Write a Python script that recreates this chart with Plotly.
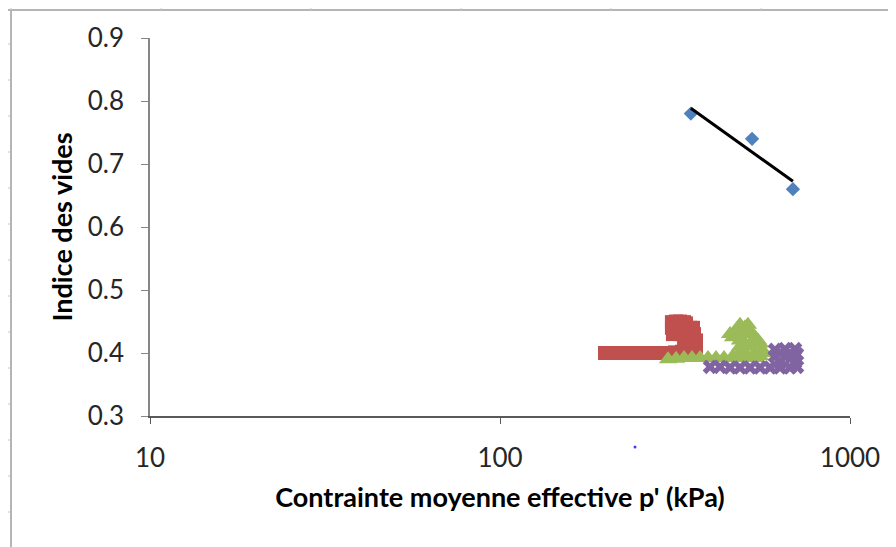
import numpy as np
import plotly.graph_objects as go

# Blue diamonds
p_blue = [351, 525, 687]
e_blue = [0.78, 0.74, 0.66]

# Red squares
p_red = [199.5, 208.9, 218.8, 229.1, 239.9, 251.2, 263.0, 275.4, 288.4, 302.0, 316.2, 331.1, 346.7,
         309.9, 318.4, 326.9, 335.6, 340.0, 349.0, 358.4, 363.1, 363.1, 358.4, 318.4, 326.9, 335.6, 349.0,
         309.9, 312.0, 340.0, 349.0, 356.0]
e_red = [0.400, 0.400, 0.400, 0.400, 0.400, 0.400, 0.400, 0.400, 0.400, 0.400, 0.401, 0.402, 0.404,
         0.449, 0.450, 0.450, 0.449, 0.447, 0.440, 0.430, 0.420, 0.410, 0.405, 0.440, 0.430, 0.420, 0.410,
         0.440, 0.430, 0.430, 0.420, 0.440]

# Green triangles
p_green = [302.0, 318.4, 335.6, 353.7, 372.8, 392.9, 414.1, 436.5, 460.1, 484.9, 511.1, 538.8,
           478.6, 501.2, 518.0, 535.3, 553.4, 560.7, 463.1, 484.9, 511.1, 535.3, 501.2, 553.4,
           484.9, 511.1, 454.2, 472.1, 491.3, 524.8, 546.1, 484.9, 501.2, 524.8, 560.7, 484.9, 463.1]
e_green = [0.390, 0.391, 0.392, 0.392, 0.392, 0.392, 0.392, 0.392, 0.392, 0.392, 0.392, 0.392,
           0.440, 0.441, 0.435, 0.425, 0.415, 0.405, 0.425, 0.420, 0.410, 0.400, 0.400, 0.395,
           0.445, 0.445, 0.430, 0.435, 0.430, 0.430, 0.420, 0.410, 0.415, 0.415, 0.400, 0.400, 0.395]

# Purple crosses
p_purple = [398.1, 425.3, 454.2, 484.9, 518.0, 553.4, 590.9, 631.0, 673.9, 705.6,
            610.6, 652.1, 696.6, 610.6, 652.1, 696.6, 631.0, 696.6, 705.6, 673.9, 631.0]
e_purple = [0.378, 0.378, 0.377, 0.377, 0.377, 0.377, 0.377, 0.377, 0.377, 0.378,
            0.405, 0.406, 0.406, 0.395, 0.395, 0.395, 0.385, 0.385, 0.398, 0.400, 0.400]

x_ticks = [10, 100, 1000]
x_tick_labels = ["10", "100", "1000"]
y_ticks = [0.3, 0.4, 0.5, 0.6, 0.7, 0.8, 0.9]
y_tick_labels = ["0.3", "0.4", "0.5", "0.6", "0.7", "0.8", "0.9"]

# Log trendline through blue points
lx = np.log10(p_blue)
slope, icpt = np.polyfit(lx, e_blue, 1)
tx = np.array([min(p_blue), max(p_blue)])
ty = slope * np.log10(tx) + icpt

fig = go.Figure()
fig.add_trace(go.Scatter(x=p_red, y=e_red, mode="markers",
                         marker=dict(symbol="square", size=14, color="#C0504D")))
fig.add_trace(go.Scatter(x=p_green, y=e_green, mode="markers",
                         marker=dict(symbol="triangle-up", size=16, color="#9BBB59")))
fig.add_trace(go.Scatter(x=p_purple, y=e_purple, mode="markers",
                         marker=dict(symbol="x", size=13, color="#8064A2")))
fig.add_trace(go.Scatter(x=p_blue, y=e_blue, mode="markers",
                         marker=dict(symbol="diamond", size=11, color="#4F81BD")))
fig.add_trace(go.Scatter(x=tx, y=ty, mode="lines", line=dict(color="black", width=3)))

font_family = "Lato, 'Open Sans', sans-serif"

# page offset of the html body (8px) is compensated in margins
OFF = 8
W, H = 896, 547
L, R, T, B = 150, 850, 38, 416  # plot area in page pixels


def px(x):
    return (x - L) / (R - L)


def py(y):
    return (B - y) / (B - T)


shapes = [
    dict(type="line", xref="paper", yref="paper", x0=px(5), x1=px(896), y0=py(10), y1=py(10),
         line=dict(color="#b5b5b5", width=2)),
    dict(type="line", xref="paper", yref="paper", x0=px(11), x1=px(11), y0=py(10), y1=py(547),
         line=dict(color="#b5b5b5", width=2)),
    dict(type="circle", xref="paper", yref="paper", x0=px(633.5), x1=px(636.5), y0=py(445.5), y1=py(448.5),
         fillcolor="#3b3bff", line=dict(width=0)),
]
for xx in range(11, 896, 150):
    shapes.append(dict(type="line", xref="paper", yref="paper", x0=px(xx), x1=px(xx),
                       y0=py(6), y1=py(10), line=dict(color="#c8c8c8", width=1)))
for yy in range(44, 547, 36):
    shapes.append(dict(type="line", xref="paper", yref="paper", x0=px(5), x1=px(10),
                       y0=py(yy), y1=py(yy), line=dict(color="#c8c8c8", width=1)))

fig.update_layout(
    width=W, height=H,
    margin=dict(l=L - OFF, r=W - (R - OFF), t=T - OFF, b=H - (B - OFF), pad=0),
    paper_bgcolor="white", plot_bgcolor="white",
    showlegend=False,
    shapes=shapes,
    font=dict(family=font_family, color="#262626"),
)
fig.update_xaxes(type="log", range=[1, 3], tickvals=x_ticks, ticktext=x_tick_labels,
                 showgrid=False, zeroline=False, showline=True, linecolor="#595959", linewidth=1.5,
                 ticks="outside", ticklen=6, tickcolor="#595959", ticklabelstandoff=12,
                 tickfont=dict(size=26, family=font_family, color="#262626"),
                 title=dict(text="<b>Contrainte moyenne effective p' (kPa)</b>",
                            font=dict(size=27, family=font_family, color="black"), standoff=16))
fig.update_yaxes(range=[0.3, 0.9], tickvals=y_ticks, ticktext=y_tick_labels,
                 showgrid=False, zeroline=False, showline=True, linecolor="#868686", linewidth=1.5,
                 ticks="outside", ticklen=7, tickcolor="#868686", ticklabelstandoff=12,
                 tickfont=dict(size=26, family=font_family, color="#262626"),
                 title=dict(text="<b>Indice des vides</b>",
                            font=dict(size=27, family=font_family, color="black"), standoff=7))

fig.write_html("out.html")
